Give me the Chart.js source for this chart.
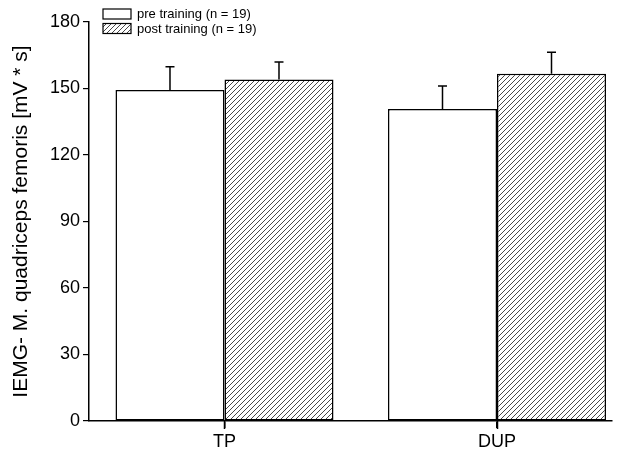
<!DOCTYPE html>
<html>
<head>
<meta charset="utf-8">
<script src="https://cdn.jsdelivr.net/npm/chart.js@4"></script>
<style>
  html, body { margin: 0; padding: 0; background: #fff; }
  #wrap { width: 635px; height: 449px; }
</style>
</head>
<body>
<div id="wrap"><canvas id="chart" width="635" height="449"></canvas></div>
<script>
const categories = ['TP', 'DUP']
const seriesNames = ['pre training (n = 19)', 'post training (n = 19)']
const preValues = [149.3, 140.8]
const preErrors = [10.5, 10.3]
const postValues = [154.1, 156.7]
const postErrors = [7.9, 9.6]
const yTicks = [0, 30, 60, 90, 120, 150, 180]

const font = "'Liberation Sans', Arial, sans-serif"

// diagonal hatch for post training bars
function makeHatch() {
    const c = document.createElement('canvas')
    c.width = 5
    c.height = 5
    const g = c.getContext('2d')
    g.fillStyle = '#fff'
    g.fillRect(0, 0, 5, 5)
    g.strokeStyle = '#333'
    g.lineWidth = 0.9
    g.beginPath()
    g.moveTo(0, 5); g.lineTo(5, 0)
    g.moveTo(-1, 1); g.lineTo(1, -1)
    g.moveTo(4, 6); g.lineTo(6, 4)
    g.stroke()
    return g.createPattern(c, 'repeat')
}
const hatch = makeHatch()

const errorBars = {
    id: 'errorBars',
    afterDatasetsDraw(chart) {
        const ctx = chart.ctx
        const y = chart.scales.y
        ctx.save()
        ctx.strokeStyle = '#000'
        ctx.lineWidth = 1.5
        chart.data.datasets.forEach((ds, i) => {
            const meta = chart.getDatasetMeta(i)
            meta.data.forEach((bar, j) => {
                const top = y.getPixelForValue(ds.data[j].y + ds.errors[j])
                ctx.beginPath()
                ctx.moveTo(bar.x, bar.y)
                ctx.lineTo(bar.x, top)
                ctx.moveTo(bar.x - 4.5, top)
                ctx.lineTo(bar.x + 4.5, top)
                ctx.stroke()
            })
        })
        ctx.restore()
    }
}

const boxLegend = {
    id: 'boxLegend',
    afterDraw(chart) {
        const ctx = chart.ctx
        const x = chart.scales.x
        const bottom = chart.chartArea.bottom
        ctx.save()
        // category tick marks under the x axis
        ctx.strokeStyle = '#000'
        ctx.lineWidth = 1.5
        categories.forEach((c, i) => {
            const px = Math.round(x.getPixelForValue(i + 1)) + 0.5
            ctx.beginPath()
            ctx.moveTo(px, bottom)
            ctx.lineTo(px, bottom + 8)
            ctx.stroke()
        })
        ctx.font = '13px ' + font
        ctx.textBaseline = 'middle'
        ctx.lineWidth = 1.2
        const fills = ['#fff', hatch]
        seriesNames.forEach((name, i) => {
            const top = 9 + i * 14.5
            ctx.fillStyle = fills[i]
            ctx.fillRect(103, top, 28, 10)
            ctx.strokeRect(103, top, 28, 10)
            ctx.fillStyle = '#000'
            ctx.fillText(name, 137, top + 5.5)
        })
        ctx.restore()
    }
}

const toPoints = vals => vals.map((v, i) => ({ x: i + 1, y: v }))

new Chart(document.getElementById('chart'), {
    type: 'bar',
    data: {
        datasets: [{
            label: seriesNames[0],
            data: toPoints(preValues),
            errors: preErrors,
            backgroundColor: '#fff',
            borderColor: '#000',
            borderWidth: 1.5,
            borderSkipped: false
        }, {
            label: seriesNames[1],
            data: toPoints(postValues),
            errors: postErrors,
            backgroundColor: hatch,
            borderColor: '#000',
            borderWidth: 1.5,
            borderSkipped: false
        }]
    },
    options: {
        responsive: false,
        animation: false,
        categoryPercentage: 0.8,
        barPercentage: 1,
        layout: { padding: { top: 22, right: 23, left: 0, bottom: 0 } },
        plugins: { legend: { display: false }, tooltip: { enabled: false } },
        scales: {
            x: {
                type: 'linear',
                min: 0.5028,
                max: 2.422,
                offset: false,
                afterBuildTicks: scale => { scale.ticks = categories.map((c, i) => ({ value: i + 1 })) },
                afterFit: scale => { scale.height = 28 },
                grid: { offset: false, drawOnChartArea: false, drawTicks: true, tickLength: 7, color: '#000', lineWidth: 1.5 },
                border: { color: '#000', width: 1.5 },
                ticks: {
                    color: '#000',
                    font: { family: font, size: 18 },
                    padding: 3,
                    maxRotation: 0,
                    callback: v => categories[v - 1]
                }
            },
            y: {
                min: 0,
                max: 180,
                afterBuildTicks: scale => { scale.ticks = yTicks.map(v => ({ value: v })) },
                afterFit: scale => { scale.width = 89 },
                grid: { drawOnChartArea: false, drawTicks: true, tickLength: 6, color: '#000', lineWidth: 1.2 },
                border: { color: '#000', width: 1.5 },
                ticks: { color: '#000', font: { family: font, size: 18 }, padding: 3 },
                title: {
                    display: true,
                    text: 'IEMG- M. quadriceps femoris [mV * s]',
                    color: '#000',
                    font: { family: font, size: 21 },
                    padding: { top: 9, bottom: 0 }
                }
            }
        }
    },
    plugins: [errorBars, boxLegend]
})
</script>
</body>
</html>
